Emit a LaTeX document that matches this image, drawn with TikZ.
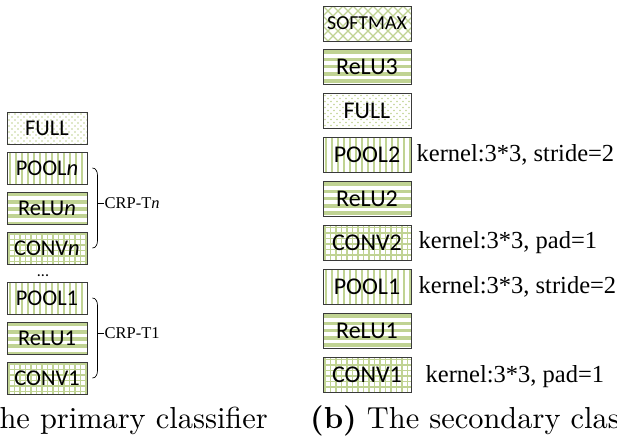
\documentclass[tikz,border=0pt]{standalone}
\usepackage{fontspec}
\newfontfamily\boxfont{Carlito}
\newfontfamily\notefont{Liberation Serif}
\newfontfamily\capfont{lmroman10-regular}[Extension=.otf, BoldFont=lmroman10-bold]
\usetikzlibrary{calc}
\definecolor{patgreen}{HTML}{C0D393}
\definecolor{edgegray}{HTML}{3A3A3A}

\tikzset{
  layer/.style={draw=edgegray, line width=0.9pt, inner sep=0pt},
  lcol/.style={layer, minimum width=80pt, minimum height=32pt,
    font=\boxfont\fontsize{22.5}{26}\selectfont},
  rcol/.style={layer, minimum width=88pt, minimum height=35pt,
    font=\boxfont\fontsize{24}{28}\selectfont},
  % vertical lines (pooling)
  vstripes/.style={path picture={
    \foreach \i in {0,...,16}{
      \draw[patgreen, line width=1.7pt]
        ([xshift=\i*6pt+3pt]path picture bounding box.north west) --
        ([xshift=\i*6pt+3pt]path picture bounding box.south west);}}},
  % wide horizontal bands (ReLU)
  hstripes/.style={path picture={
    \foreach \i in {0,...,6}{
      \draw[patgreen, line width=3.6pt]
        ([yshift=-\i*7.2pt-2.6pt]path picture bounding box.north west) --
        ([yshift=-\i*7.2pt-2.6pt]path picture bounding box.north east);}}},
  % square grid (convolution)
  gridcells/.style={path picture={
    \foreach \i in {0,...,18}{
      \draw[patgreen, line width=1.8pt]
        ([xshift=\i*5.5pt+2pt]path picture bounding box.north west) --
        ([xshift=\i*5.5pt+2pt]path picture bounding box.south west);}
    \foreach \i in {0,...,7}{
      \draw[patgreen, line width=1.8pt]
        ([yshift=-\i*5.5pt-2pt]path picture bounding box.north west) --
        ([yshift=-\i*5.5pt-2pt]path picture bounding box.north east);}}},
  % staggered dots (fully connected)
  dotted fill/.style={path picture={
    \foreach \i in {0,...,16}{
      \foreach \j in {0,...,6}{
        \fill[patgreen] ([xshift=\i*6pt+2pt, yshift=-\j*6pt-2pt]path picture bounding box.north west) circle (0.9pt);
        \fill[patgreen] ([xshift=\i*6pt+5pt, yshift=-\j*6pt-5pt]path picture bounding box.north west) circle (0.9pt);}}}},
  % diagonal lattice (softmax)
  lattice/.style={path picture={
    \foreach \i in {-6,...,14}{
      \draw[patgreen, line width=1.3pt]
        ([xshift=\i*10pt]path picture bounding box.north west) -- ++(45pt,-45pt);
      \draw[patgreen, line width=1.3pt]
        ([xshift=\i*10pt]path picture bounding box.north west) -- ++(-45pt,-45pt);}}},
  note/.style={anchor=west, inner sep=0pt, font=\notefont\fontsize{24.5}{28}\selectfont},
  crp/.style={anchor=west, inner sep=0pt, font=\notefont\fontsize{16.5}{19}\selectfont},
  brace/.style={draw=black, line width=0.7pt},
  caption/.style={inner sep=0pt, font=\capfont\fontsize{30.4}{35}\selectfont}
}

\begin{document}
\begin{tikzpicture}[x=1pt, y=-1pt]
\useasboundingbox (0,0) rectangle (617,440);
\clip (0,0) rectangle (617,440);

% ---- primary classifier ----
\node[lcol, dotted fill] (lfull)  at (47,128) {FULL};
\node[lcol, vstripes]    (lpooln) at (47,168) {POOL\textit{n}};
\node[lcol, hstripes]    (lrelun) at (47,208) {ReLU\textit{n}};
\node[lcol, gridcells]   (lconvn) at (47,248) {CONV\textit{n}};
\node[inner sep=0pt, anchor=base, font=\boxfont\fontsize{16}{16}\selectfont] (ldots) at (43,276) {...};
\node[lcol, vstripes]    (lpool1) at (47,298) {POOL1};
\node[lcol, hstripes]    (lrelu1) at (47,338) {ReLU1};
\node[lcol, gridcells]   (lconv1) at (47,378) {CONV1};

% braces grouping each CONV-ReLU-POOL triple
\coordinate (bnt) at ([xshift=5pt]lpooln.east);
\coordinate (bnb) at ([xshift=5pt]lconvn.east);
\coordinate (bnm) at ([xshift=10pt, yshift=5pt]lrelun.east);
\node[crp] (crpn) at ([xshift=17pt, yshift=5pt]lrelun.east) {CRP-T\textit{n}};
\draw[brace] (bnt) to[out=0, in=90] ++(5pt,-7pt) -- ($(bnb)+(5pt,7pt)$) to[out=-90, in=0] (bnb);
\draw[brace] (bnm) -- (crpn.west);

\coordinate (b1t) at ([xshift=5pt]lpool1.east);
\coordinate (b1b) at ([xshift=5pt]lconv1.east);
\coordinate (b1m) at ([xshift=10pt, yshift=5pt]lrelu1.east);
\node[crp] (crp1) at ([xshift=17pt, yshift=5pt]lrelu1.east) {CRP-T1};
\draw[brace] (b1t) to[out=0, in=90] ++(5pt,-7pt) -- ($(b1b)+(5pt,7pt)$) to[out=-90, in=0] (b1b);
\draw[brace] (b1m) -- (crp1.west);

% ---- secondary classifier ----
\node[rcol, lattice, font=\boxfont\fontsize{19.8}{23}\selectfont] (rsoft) at (367,23.5) {SOFTMAX};
\node[rcol, hstripes]    (rrelu3) at (367,67)  {ReLU3};
\node[rcol, dotted fill] (rfull)  at (367,111) {FULL};
\node[rcol, vstripes]    (rpool2) at (367,155) {POOL2};
\node[rcol, hstripes]    (rrelu2) at (367,199) {ReLU2};
\node[rcol, gridcells]   (rconv2) at (367,243) {CONV2};
\node[rcol, vstripes]    (rpool1) at (367,287) {POOL1};
\node[rcol, hstripes]    (rrelu1) at (367,331) {ReLU1};
\node[rcol, gridcells]   (rconv1) at (367,375) {CONV1};

\node[note] (npool2) at ([xshift=5pt]rpool2.east) {kernel:3*3, stride=2};
\node[note] (nconv2) at ([xshift=7pt]rconv2.east) {kernel:3*3, pad=1};
\node[note] (npool1) at ([xshift=7pt]rpool1.east) {kernel:3*3, stride=2};
\node[note] (nconv1) at ([xshift=14pt, yshift=-2pt]rconv1.east) {kernel:3*3, pad=1};

% ---- captions ----
\node[caption, anchor=base east] (capa) at (268,428) {\textbf{(a)} The primary classifier};
\node[caption, anchor=base west] (capb) at (310,428) {\textbf{(b)} The secondary classifier};
\end{tikzpicture}
\end{document}
